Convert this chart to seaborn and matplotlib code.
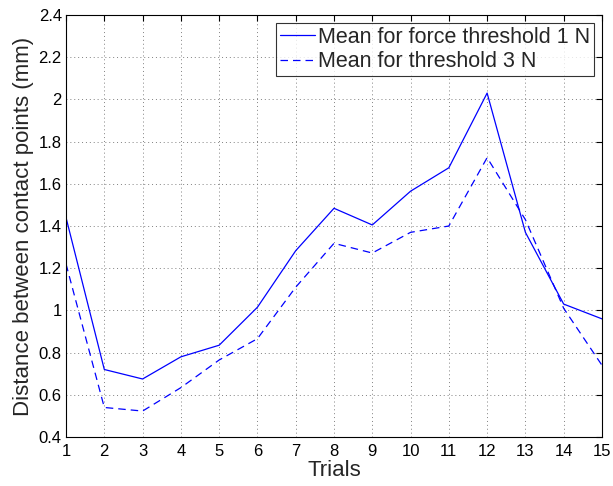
import pandas as pd
import seaborn as sns
import matplotlib.pyplot as plt
import numpy as np

trials = list(range(1, 16))
mean_1n = [1.44, 0.72, 0.675, 0.78, 0.835, 1.015, 1.283, 1.484, 1.405, 1.565, 1.676, 2.03, 1.37, 1.03, 0.96]
mean_3n = [1.22, 0.54, 0.523, 0.634, 0.765, 0.866, 1.11, 1.318, 1.272, 1.37, 1.40, 1.724, 1.43, 1.01, 0.74]
labels = ["Mean for force threshold 1 N", "Mean for threshold 3 N"]

df = pd.DataFrame({
    "trial": trials * 2,
    "dist": mean_1n + mean_3n,
    "series": [labels[0]] * len(trials) + [labels[1]] * len(trials),
})

sns.set_style("white")
plt.rcParams['font.family'] = ['Liberation Sans', 'DejaVu Sans']

fig = plt.figure(figsize=(6.13, 4.86), dpi=100)
ax = fig.add_axes([0.1077, 0.1008, 0.8743, 0.8683])

sns.lineplot(data=df, x="trial", y="dist", style="series", color="blue",
             dashes={labels[0]: "", labels[1]: (6, 4)}, linewidth=0.9, ax=ax)

ax.set_xlim(1, 15)
ax.set_ylim(0.4, 2.4)
ax.set_xticks(trials)
yt = np.round(np.arange(0.4, 2.41, 0.2), 1)
ax.set_yticks(yt)
ax.set_yticklabels([f"{v:g}" for v in yt])
ax.grid(True, linestyle=(0, (1, 3)), color="0.5", linewidth=0.7)
ax.tick_params(direction="in", top=True, right=True, length=4, labelsize=12, colors="black", pad=3)
ax.tick_params(axis="x", pad=5)
for s in ax.spines.values():
    s.set_color("black")
    s.set_linewidth(0.8)

ax.set_xlabel("Trials", fontsize=16, labelpad=1)
ax.set_ylabel("Distance between contact points (mm)", fontsize=16, labelpad=3)

leg = ax.legend(loc="upper right", fontsize=15.5, handlelength=1.6, handletextpad=0.15,
                borderaxespad=0.35, borderpad=0.2, labelspacing=0.15, fancybox=False)
leg.get_frame().set_edgecolor("black")
leg.get_frame().set_linewidth(0.8)
leg.set_title(None)

fig.savefig("out.png", dpi=100)
